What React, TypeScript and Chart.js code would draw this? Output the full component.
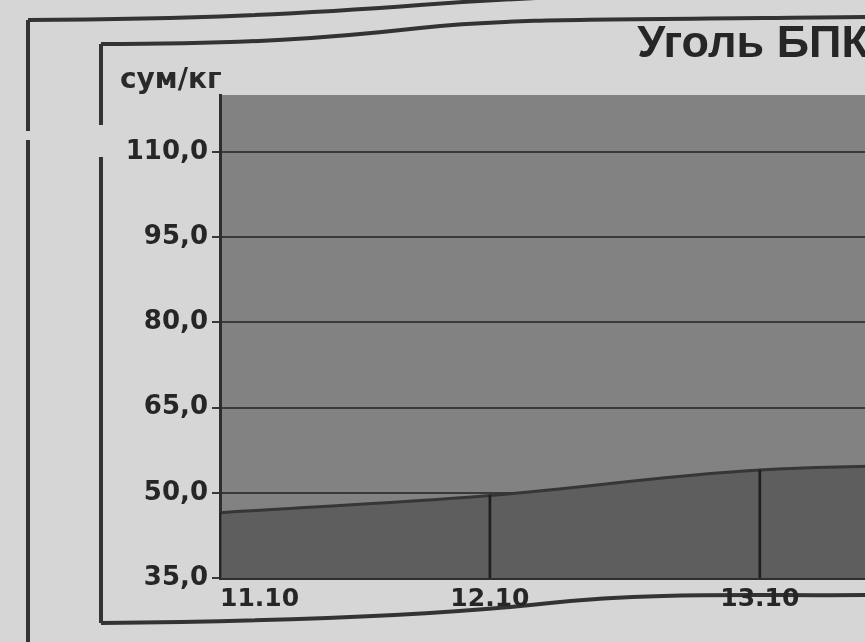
import React, { useEffect, useRef } from 'react';
import { Chart, registerables } from 'chart.js';

Chart.register(...registerables);

// ---- data ----
const categories = ['11.10', '12.10', '13.10', '14.10'];
const priceValues = [46.5, 49.5, 54, 55];
const yTickValues = [35, 50, 65, 80, 95, 110];
const yMin = 35;
const yMax = 120;
const xMax = 4.32;
const chartTitle = 'Уголь БПК';
const unitLabel = 'сум/кг';

const plotBackground = {
  id: 'plotBackground',
  beforeDraw(chart: any) {
    const { ctx, chartArea } = chart;
    if (!chartArea) return;
    ctx.save();
    ctx.fillStyle = '#828282';
    ctx.fillRect(chartArea.left, chartArea.top, chartArea.width, chartArea.height);
    ctx.restore();
  },
};

export default function App() {
  const canvasRef = useRef<HTMLCanvasElement | null>(null);

  useEffect(() => {
    if (!canvasRef.current) return;
    const points = categories.map((_, i) => ({ x: i, y: priceValues[i] }));
    const chart = new Chart(canvasRef.current, {
      type: 'line',
      data: {
        datasets: [
          {
            type: 'bar',
            data: points,
            backgroundColor: '#1e1e1e',
            barThickness: 2,
            order: 1,
          } as any,
          {
            type: 'line',
            data: points,
            fill: 'start',
            backgroundColor: '#5e5e5e',
            borderColor: '#363636',
            borderWidth: 3,
            tension: 0.4,
            pointRadius: 0,
            order: 2,
          } as any,
        ],
      },
      options: {
        animation: false,
        responsive: false,
        maintainAspectRatio: false,
        layout: { padding: 0 },
        plugins: {
          legend: { display: false },
          tooltip: { enabled: false },
          title: {
            display: true,
            text: chartTitle,
            align: 'center',
            color: '#262626',
            font: { family: 'Liberation Sans', size: 45, weight: 'bold', lineHeight: 1.0 },
            padding: 0,
          },
          subtitle: {
            display: true,
            text: unitLabel,
            align: 'start',
            color: '#2a2a2a',
            font: { family: 'DejaVu Sans', size: 28, weight: 'bold', lineHeight: 1.0 },
            padding: 0,
          },
        },
        scales: {
          x: {
            type: 'linear',
            offset: false,
            min: 0,
            max: xMax,
            afterBuildTicks: (scale: any) => {
              scale.ticks = categories.map((_, i) => ({ value: i }));
            },
            afterFit: (scale: any) => {
              scale.height = 41;
            },
            grid: { display: false, drawTicks: false, offset: false },
            border: { display: true, color: '#2e2e2e', width: 3 },
            ticks: {
              autoSkip: false,
              maxRotation: 0,
              align: 'inner',
              padding: 6,
              color: '#262626',
              font: { family: 'DejaVu Sans', size: 25, weight: 'bold' },
              callback: (v: any) => categories[v] ?? '',
            },
          },
          y: {
            type: 'linear',
            min: yMin,
            max: yMax,
            afterBuildTicks: (scale: any) => {
              scale.ticks = yTickValues.map((value) => ({ value }));
            },
            afterFit: (scale: any) => {
              scale.width = 100;
            },
            grid: { color: '#3a3a3a', lineWidth: 2, tickLength: 8 },
            border: { display: true, color: '#2e2e2e', width: 3 },
            ticks: {
              padding: 4,
              color: '#262626',
              font: { family: 'DejaVu Sans', size: 26, weight: 'bold' },
              callback: (v: any) => Number(v).toFixed(1).replace('.', ','),
            },
          },
        },
      } as any,
      plugins: [plotBackground],
    });
    return () => chart.destroy();
  }, []);

  return (
    <div
      style={{
        position: 'fixed',
        left: 0,
        top: 0,
        width: 865,
        height: 642,
        overflow: 'hidden',
        background: '#d6d6d6',
      }}
    >
      <svg
        width={865}
        height={642}
        style={{ position: 'absolute', left: 0, top: 0 }}
        fill="none"
        stroke="#333"
        strokeWidth={4}
      >
        <path d="M28,20 C200,19 300,14 420,5 S600,-5 865,-10" />
        <path d="M28,20 L28,131" />
        <path d="M28,140 L28,642" />
        <path d="M101,44 C250,44 330,38 420,28 S600,20 865,17" />
        <path d="M101,44 L101,125" />
        <path d="M101,157 L101,623" />
        <path d="M101,623 C300,621 450,614 550,603 S750,596 865,595" />
      </svg>
      <canvas
        ref={canvasRef}
        width={1266}
        height={597}
        style={{ position: 'absolute', left: 120, top: 22, width: 1266, height: 597 }}
      />
    </div>
  );
}
